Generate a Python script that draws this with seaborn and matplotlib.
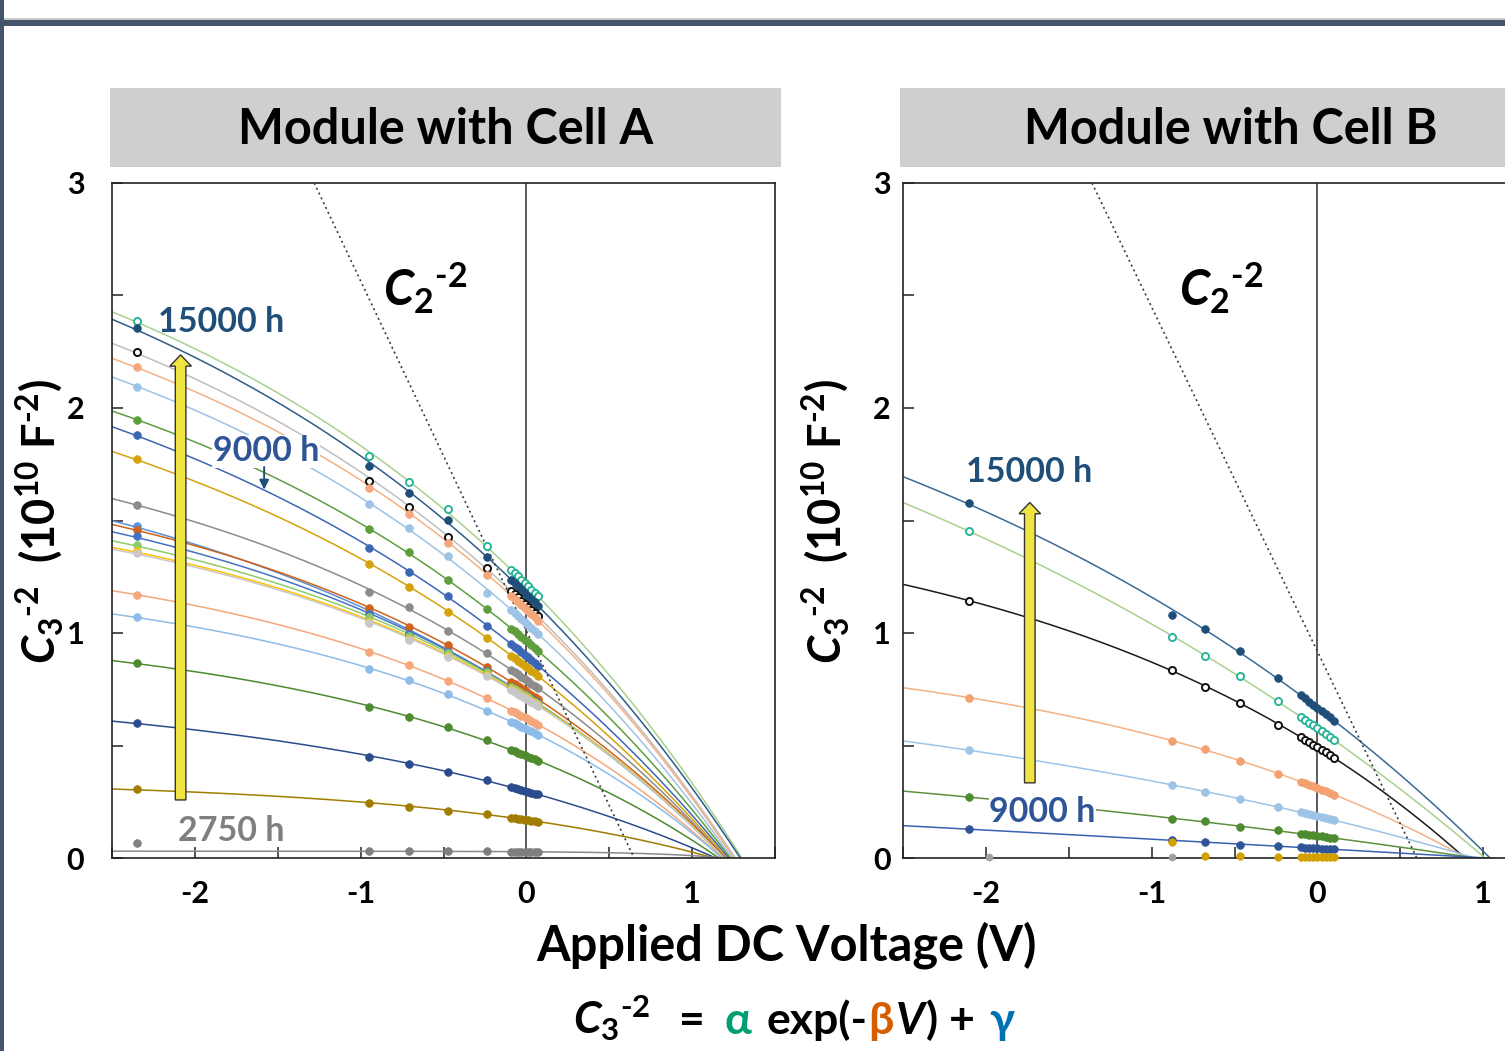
import numpy as np
import pandas as pd
import seaborn as sns
import matplotlib
matplotlib.use("Agg")
import matplotlib.pyplot as plt
from matplotlib.patches import Rectangle, FancyArrow

# ---------------- data ----------------
# Left panel: Module with Cell A (20 fitted curves, ordered top -> bottom)
V_A = [-2.35, -0.95, -0.71, -0.47, -0.235]
V_A_CLUSTER = [-0.09, -0.07, -0.05, -0.03, -0.01, 0.01, 0.03, 0.05, 0.07]
A_AT_M235 = [2.387, 2.354, 2.250, 2.184, 2.095, 1.947, 1.880, 1.772, 1.569, 1.475,
             1.460, 1.430, 1.390, 1.365, 1.355, 1.169, 1.070, 0.865, 0.601, 0.305]
A_AT_M095 = [1.787, 1.742, 1.676, 1.646, 1.573, 1.462, 1.376, 1.307, 1.184, 1.095,
             1.110, 1.085, 1.070, 1.050, 1.045, 0.917, 0.838, 0.672, 0.447, 0.243]
A_AT_M071 = [1.673, 1.621, 1.562, 1.529, 1.468, 1.358, 1.273, 1.206, 1.117, 1.000,
             1.025, 0.995, 0.985, 0.975, 0.970, 0.858, 0.791, 0.625, 0.416, 0.228]
A_AT_M047 = [1.551, 1.502, 1.428, 1.401, 1.343, 1.236, 1.164, 1.094, 1.010, 0.920,
             0.947, 0.915, 0.910, 0.900, 0.895, 0.787, 0.727, 0.581, 0.383, 0.210]
A_AT_M0235 = [1.387, 1.336, 1.287, 1.260, 1.176, 1.105, 1.032, 0.980, 0.909, 0.830,
              0.847, 0.830, 0.825, 0.815, 0.810, 0.709, 0.653, 0.524, 0.347, 0.196]
A_AT_0 = [1.206, 1.179, 1.132, 1.117, 1.050, 0.962, 0.902, 0.850, 0.788, 0.735,
          0.745, 0.735, 0.730, 0.725, 0.720, 0.619, 0.572, 0.453, 0.302, 0.173]
A_ZERO_V = [1.30, 1.29, 1.26, 1.25, 1.24, 1.23, 1.22, 1.21, 1.20, 1.20,
            1.20, 1.19, 1.19, 1.19, 1.19, 1.18, 1.18, 1.16, 1.14, 1.13]
# 2750 h series (near zero)
A_2750_Y = [0.068, 0.030, 0.030, 0.029, 0.029]
A_2750_AT_0 = 0.028
A_2750_ZERO_V = 1.20

# Right panel: Module with Cell B (7 fitted curves, top -> bottom)
V_B = [-2.10, -0.88, -0.675, -0.465, -0.235]
V_B_CLUSTER = [-0.10, -0.075, -0.05, -0.025, 0.0, 0.025, 0.05, 0.075, 0.10]
B_AT_M210 = [1.576, 1.453, 1.143, 0.712, 0.480, 0.271, 0.128]
B_AT_M088 = [1.082, 0.981, 0.836, 0.520, 0.324, 0.173, 0.080]
B_AT_M0675 = [1.020, 0.896, 0.762, 0.486, 0.292, 0.165, 0.072]
B_AT_M0465 = [0.921, 0.809, 0.687, 0.431, 0.262, 0.138, 0.060]
B_AT_M0235 = [0.799, 0.699, 0.593, 0.374, 0.228, 0.123, 0.053]
B_AT_0 = [0.671, 0.578, 0.494, 0.310, 0.189, 0.098, 0.040]
B_ZERO_V = [1.04, 1.01, 0.89, 0.90, 0.95, 0.95, 1.03]
# points lying on the axis (no visible fitted line)
B_GOLD_V = [-0.88, -0.675, -0.465, -0.235, -0.10, -0.075, -0.05, -0.025, 0.0, 0.025, 0.05, 0.075, 0.10]
B_GOLD_Y = [0.070, 0.008, 0.008, 0.006, 0.005, 0.005, 0.005, 0.005, 0.005, 0.005, 0.005, 0.005, 0.005]
B_GRAY_V = [-1.98, -0.88]
B_GRAY_Y = [0.006, 0.004]

# C2^-2 reference lines (dotted)
C2_A_V = [-1.28, 0.65]
C2_A_Y = [3.0, 0.0]
C2_B_V = [-1.36, 0.60]
C2_B_Y = [3.0, 0.0]

X_TICKS = [-2, -1, 0, 1]
X_TICK_LABELS = ["-2", "-1", "0", "1"]
Y_TICKS = [0, 1, 2, 3]
Y_TICK_LABELS = ["0", "1", "2", "3"]

# ---------------- styles ----------------
A_LINE_COLORS = ['#A9D18E', '#2E5C8A', '#BFBFBF', '#F4B183', '#9DC3E6', '#5E9E3E', '#3C67B5',
                 '#D4A20A', '#8C8C8C', '#5B8FD6', '#D0631C', '#4472C4', '#8FCB6A', '#FFC000',
                 '#C8C8C8', '#F4A77A', '#8DBCE8', '#4E8A2E', '#2B4C8C', '#A07C00']
A_MARK_FACE = ['white', '#1F4E79', 'white', '#F4A77A', '#9DC3E6', '#5E9E3E', '#3C67B5',
               '#D4A20A', '#8C8C8C', '#5B8FD6', '#D0631C', '#4472C4', '#8FCB6A', '#FFC000',
               '#C8C8C8', '#F4A77A', '#8DBCE8', '#4E8A2E', '#2B4C8C', '#A07C00']
A_MARK_EDGE = ['#2AB59A', '#1F4E79', '#111111'] + A_MARK_FACE[3:]

B_LINE_COLORS = ['#3A6A96', '#A9D18E', '#1A1A1A', '#F4B183', '#9DC3E6', '#5E8F3E', '#3A62B2']
B_MARK_FACE = ['#1F4E79', 'white', 'white', '#F4A070', '#9DC3E6', '#4E8A2E', '#2F5597']
B_MARK_EDGE = ['#1F4E79', '#2AB59A', '#111111', '#F4A070', '#9DC3E6', '#4E8A2E', '#2F5597']

W, H = 1505, 1051


def fx(x):
    return x / W


def fy(y):
    return 1 - y / H


def fit_exp(v, y, w):
    """least squares fit of C^-2 = alpha*exp(-beta*V) + gamma"""
    v = np.asarray(v, float)
    y = np.asarray(y, float)
    w = np.asarray(w, float)
    best = None
    for b in np.linspace(0.02, 3.0, 600):
        X = np.column_stack([np.ones_like(v), np.exp(b * v)])
        coef, *_ = np.linalg.lstsq(X * w[:, None], y * w, rcond=None)
        r = np.sum(((X @ coef) - y) ** 2 * w ** 2)
        if best is None or r < best[0]:
            best = (r, b, coef)
    b, coef = best[1], best[2]
    return lambda vv: coef[0] + coef[1] * np.exp(b * np.asarray(vv, float))


sns.set_theme(style="white")
plt.rcParams['font.family'] = ['Lato', 'DejaVu Sans']
plt.rcParams['mathtext.fontset'] = 'custom'
plt.rcParams['mathtext.rm'] = 'Lato:bold'
plt.rcParams['mathtext.it'] = 'Lato:bold:italic'
plt.rcParams['mathtext.bf'] = 'Lato:bold'
plt.rcParams['mathtext.sf'] = 'Lato:bold'

fig = plt.figure(figsize=(15.05, 10.51), dpi=100)
fig.patch.set_facecolor('white')

axA = fig.add_axes([fx(112), fy(858), (775 - 112) / W, (858 - 183) / H])
axB = fig.add_axes([fx(903), fy(858), (775 - 112) / W, (858 - 183) / H])

VGRID = np.linspace(-2.5, 1.6, 500)


def draw_curve(ax, vpts, ypts, y0, v0, lc, mf, me, vcl, skip_first_in_fit=False):
    vfit = list(vpts) + [0.0, v0]
    yfit = list(ypts) + [y0, 0.0]
    wfit = [1.0] * len(vpts) + [1.0, 1.5]
    if skip_first_in_fit:
        vfit, yfit, wfit = vfit[1:], yfit[1:], wfit[1:]
    f = fit_exp(vfit, yfit, wfit)
    yg = f(VGRID)
    m = yg > -0.06
    sns.lineplot(x=VGRID[m], y=yg[m], ax=ax, color=lc, linewidth=1.1,
                 estimator=None, sort=False, legend=False, zorder=2)
    mx = list(vpts) + list(vcl)
    my = list(ypts) + list(f(vcl))
    open_m = (mf == 'white')
    sns.scatterplot(x=mx, y=my, ax=ax, color=mf, edgecolor=me,
                    s=26 if open_m else 30, linewidth=1.4 if open_m else 0.6,
                    legend=False, zorder=4)


# ---- left panel ----
for i in range(len(A_AT_M235)):
    ypts = [A_AT_M235[i], A_AT_M095[i], A_AT_M071[i], A_AT_M047[i], A_AT_M0235[i]]
    draw_curve(axA, V_A, ypts, A_AT_0[i], A_ZERO_V[i], A_LINE_COLORS[i],
               A_MARK_FACE[i], A_MARK_EDGE[i], V_A_CLUSTER)
draw_curve(axA, V_A, A_2750_Y, A_2750_AT_0, A_2750_ZERO_V, '#8A8A8A', '#7F7F7F', '#7F7F7F',
           V_A_CLUSTER, skip_first_in_fit=True)

# ---- right panel ----
B_COLS = [B_AT_M210, B_AT_M088, B_AT_M0675, B_AT_M0465, B_AT_M0235]
for i in range(len(B_AT_M210)):
    ypts = [c[i] for c in B_COLS]
    draw_curve(axB, V_B, ypts, B_AT_0[i], B_ZERO_V[i], B_LINE_COLORS[i],
               B_MARK_FACE[i], B_MARK_EDGE[i], V_B_CLUSTER)
sns.scatterplot(x=B_GOLD_V, y=B_GOLD_Y, ax=axB, color='#D4A000', edgecolor='#D4A000', s=30,
                legend=False, zorder=4, clip_on=False)
sns.scatterplot(x=B_GRAY_V, y=B_GRAY_Y, ax=axB, color='#A0A0A0', edgecolor='#A0A0A0', s=26,
                legend=False, zorder=4, clip_on=False)

# dotted C2 lines, zero lines, axes styling
for ax, cv, cy in [(axA, C2_A_V, C2_A_Y), (axB, C2_B_V, C2_B_Y)]:
    sns.lineplot(x=cv, y=cy, ax=ax, color='#3A3A3A', linestyle=(0, (1.2, 2.0)), linewidth=1.2,
                 estimator=None, sort=False, legend=False, zorder=3)
    ax.axvline(0, color='#5A5A5A', linewidth=1.4, zorder=1.5)
    ax.set_xlim(-2.5, 1.5)
    ax.set_ylim(0, 3)
    ax.set_xlabel('')
    ax.set_ylabel('')
    ax.set_xticks(X_TICKS)
    ax.set_xticklabels(X_TICK_LABELS)
    ax.set_yticks(Y_TICKS)
    ax.set_yticklabels(Y_TICK_LABELS)
    ax.set_xticks([-2.5, -1.5, -0.5, 0.5, 1.5], minor=True)
    ax.set_yticks([0.5, 1.5, 2.5], minor=True)
    ax.tick_params(axis='both', which='both', direction='in', length=8, width=1.1,
                   color='#222222', top=False, right=False, bottom=True, left=True)
    ax.tick_params(axis='x', which='major', labelsize=22, pad=16)
    for lab in ax.get_xticklabels() + ax.get_yticklabels():
        lab.set_fontweight('bold')
        lab.set_color('black')
    for sp in ax.spines.values():
        sp.set_color('#222222')
        sp.set_linewidth(1.2)
    ax.set_facecolor('white')

axA.tick_params(axis='y', which='major', labelsize=22, pad=20)
axB.tick_params(axis='y', which='major', labelsize=22, pad=9)

# yellow arrows
axA.add_patch(FancyArrow(-2.086, 0.258, 0, 2.236 - 0.258, width=0.064, head_width=0.13,
                         head_length=0.05, length_includes_head=True,
                         facecolor='#F0E442', edgecolor='#333333', linewidth=1.0, zorder=5))
axB.add_patch(FancyArrow(-1.735, 0.334, 0, 1.58 - 0.334, width=0.064, head_width=0.13,
                         head_length=0.05, length_includes_head=True,
                         facecolor='#F0E442', edgecolor='#333333', linewidth=1.0, zorder=5))

# hour annotations
axA.text(-2.22, 2.38, '15000 h', color='#1F4E79', fontsize=24.5, fontweight='bold',
         ha='left', va='center', zorder=6)
axA.text(-1.89, 1.807, '9000 h', color='#2F5597', fontsize=24.5, fontweight='bold',
         ha='left', va='center', zorder=6,
         bbox=dict(facecolor='white', edgecolor='none', pad=0.5))
axA.annotate('', xy=(-1.582, 1.625), xytext=(-1.582, 1.75),
             arrowprops=dict(arrowstyle='-|>', color='#1F4E79', lw=1.4, mutation_scale=14),
             zorder=6)
axA.text(-2.10, 0.12, '2750 h', color='#7F7F7F', fontsize=24.5, fontweight='bold',
         ha='left', va='center', zorder=6)
axB.text(-2.12, 1.716, '15000 h', color='#1F4E79', fontsize=24.5, fontweight='bold',
         ha='left', va='center', zorder=6)
axB.text(-1.98, 0.204, '9000 h', color='#2F5597', fontsize=24.5, fontweight='bold',
         ha='left', va='center', zorder=6,
         bbox=dict(facecolor='white', edgecolor='none', pad=0.5))

# C2^-2 labels
C2_LABEL = r'$C_2{}^{\text{-2}}$'
fig.text(fx(425), fy(288), C2_LABEL, fontsize=35, color='black', ha='center', va='center')
fig.text(fx(1221), fy(288), C2_LABEL, fontsize=35, color='black', ha='center', va='center')

# header boxes
fig.add_artist(Rectangle((fx(110), fy(167)), (781 - 110) / W, (167 - 88) / H,
                         transform=fig.transFigure, facecolor='#D0CECE', edgecolor='none'))
fig.add_artist(Rectangle((fx(900), fy(167)), (1510 - 900) / W, (167 - 88) / H,
                         transform=fig.transFigure, facecolor='#D0CECE', edgecolor='none'))
fig.text(fx(446), fy(130), 'Module with Cell A', fontsize=35, fontweight='bold',
         ha='center', va='center', color='black')
fig.text(fx(1231), fy(130), 'Module with Cell B', fontsize=35, fontweight='bold',
         ha='center', va='center', color='black')

# y labels
ylab = r'$C_3{}^{\text{-2}}$  (10$^{10}$ F$^{\text{-2}}$)'
fig.text(fx(40), fy(521), ylab, fontsize=32.5, fontweight='bold', rotation=90,
         ha='center', va='center', color='black')
fig.text(fx(826), fy(521), ylab, fontsize=32.5, fontweight='bold', rotation=90,
         ha='center', va='center', color='black')

# x label
fig.text(fx(786), fy(945), 'Applied DC Voltage (V)', fontsize=35, fontweight='bold',
         ha='center', va='center', color='black')

# formula: pieces chained left to right, gap (px) after each piece
FORMULA_PARTS = [
    (r'$C_3{}^{\text{-2}}$', 'black', 'normal', 28),
    ('=', 'black', 'normal', 20),
    ('α', '#009E73', 'normal', 15),
    ('exp(-', 'black', 'normal', 1),
    ('β', '#D55E00', 'normal', 2),
    ('V', 'black', 'italic', 1),
    (')', 'black', 'normal', 11),
    ('+', 'black', 'normal', 14),
    ('γ', '#0072B2', 'normal', 0),
]
renderer = fig.canvas.get_renderer()
ftexts = []
total = 0.0
for s, col, st, gap in FORMULA_PARTS:
    t = fig.text(0, fy(1034), s, fontsize=32, fontweight='bold', fontstyle=st,
                 color=col, ha='left', va='baseline')
    w = t.get_window_extent(renderer).width
    ftexts.append((t, w, gap))
    total += w + gap
xcur = 793.5 - total / 2
for t, w, gap in ftexts:
    t.set_x(fx(xcur))
    xcur += w + gap

# frame decorations (top bar, left border)
fig.add_artist(Rectangle((0, fy(26)), 1, 6 / H, transform=fig.transFigure,
                         facecolor='#44546A', edgecolor='none'))
fig.add_artist(Rectangle((0, fy(20)), 1, 1.5 / H, transform=fig.transFigure,
                         facecolor='#C8C8C8', edgecolor='none'))
fig.add_artist(Rectangle((0, 0), 4 / W, 1, transform=fig.transFigure,
                         facecolor='#44546A', edgecolor='none'))

fig.savefig('out.png', dpi=100, facecolor='white')
